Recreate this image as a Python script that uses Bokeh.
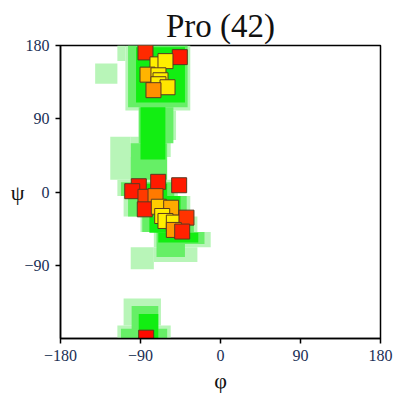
from bokeh.plotting import figure
from bokeh.models import FixedTicker, ColumnDataSource
from bokeh.embed import file_html
from bokeh.resources import INLINE

# ---- data ----
title_text = "Pro (42)"
x_ticks = [-180, -90, 0, 90, 180]
y_ticks = [-90, 0, 90, 180]

# density regions (phi_left, phi_right, psi_bottom, psi_top) per shading level
pale_l = [-116, -107, -141, -92, -124, -124, -101, -116, -109, -90, -75, -101, -75, -109, -116]
pale_r = [-107, -34, -116, -50, -101, -79, -56, -48, -34, -26, -11, -75, -26, -67, -56]
pale_b = [161, 100, 133, 64, 43, 15, 43, -5, -30, -49, -68, -95, -86, -164, -180]
pale_t = [180, 180, 158, 100, 68, 43, 68, 15, -5, -30, -49, -68, -68, -131, -164]

mid_l = [-104, -92, -101, -112, -104, -88, -72, -72, -100, -112]
mid_r = [-37, -53, -60, -52, -38, -30, -18, -40, -70, -60]
mid_b = [104, 60, 15, -5, -30, -49, -64, -80, -180, -180]
mid_t = [180, 104, 60, 12, -5, -30, -49, -64, -140, -168]

hi_l = [-95, -90, -100, -90, -80, -70, -92]
hi_r = [-40, -62, -60, -45, -35, -25, -70]
hi_b = [110, 40, -5, -30, -50, -62, -180]
hi_t = [178, 104, 10, -5, -30, -50, -150]

# residues
phi = [-84.4, -45.8, -70.9, -61.9, -82.1, -69.8, -67.5, -69.8, -59.6, -75.4,
       -91.9, -99.3, -70.1, -46.5, -84.4, -73.1, -85.2, -69.4, -55.5, -65.6,
       -61.9, -52.5, -38.3, -52.5, -43.1, -83.6]
psi = [171.5, 165.7, 156.8, 160.8, 144.2, 143.4, 137.3, 132.4, 128.7, 125.1,
       7.1, 1.0, 12.5, 8.3, -5.9, -5.1, -21.3, -18.1, -19.3, -29.5,
       -35.6, -37.6, -31.5, -46.6, -48.6, -179.0]
col = ["#ff2a00", "#ff1a00", "#ffee00", "#ffee00", "#ffb400", "#ffee00", "#ffee00", "#ffee00", "#ffe600", "#ff9000",
       "#ff1a00", "#ff1a00", "#ff1a00", "#ff1a00", "#ff3a00", "#ff7a00", "#ff1a00", "#ffcc00", "#ffaa00", "#ffee00",
       "#ffee00", "#ffee00", "#ff3300", "#ff9900", "#ff2200", "#ff0a00"]

p = figure(width=396, height=395, x_range=(-180, 180), y_range=(-180, 180),
           output_backend="svg", toolbar_location=None,
           min_border_left=60, min_border_right=16, min_border_top=45, min_border_bottom=55)
p.title.text = title_text
p.title.align = "center"
p.title.text_font = "Liberation Serif"
p.title.text_font_size = "33px"
p.title.text_font_style = "normal"
p.title.text_color = "#111111"
p.title.standoff = 4
p.xgrid.visible = False
p.ygrid.visible = False
p.outline_line_color = "black"
p.outline_line_width = 1.5

for L, R, B, T, c in [(pale_l, pale_r, pale_b, pale_t, "#b8f5b8"),
                      (mid_l, mid_r, mid_b, mid_t, "#66ef66"),
                      (hi_l, hi_r, hi_b, hi_t, "#12ee12")]:
    p.quad(left=L, right=R, bottom=B, top=T, fill_color=c, line_color=None)

src = ColumnDataSource(dict(phi=phi, psi=psi, col=col))
p.scatter("phi", "psi", source=src, marker="square", size=15, fill_color="col",
          line_color="#5a3a20", line_width=1)

p.xaxis[0].ticker = FixedTicker(ticks=x_ticks)
p.yaxis[0].ticker = FixedTicker(ticks=y_ticks)
for ax in (p.xaxis[0], p.yaxis[0]):
    ax.major_label_text_font = "Liberation Serif"
    ax.major_label_text_font_size = "16px"
    ax.major_label_text_color = "#1a2f55"
    ax.minor_tick_line_color = None
    ax.major_tick_in = 0
    ax.major_tick_out = 5
    ax.axis_line_width = 1.5
    ax.major_tick_line_width = 1.5
    ax.major_label_standoff = 6
    ax.axis_label_text_font = "Liberation Serif"
    ax.axis_label_text_font_size = "22px"
    ax.axis_label_text_font_style = "normal"
    ax.axis_label_text_color = "#111111"

p.xaxis[0].axis_label = "φ"
p.xaxis[0].axis_label_standoff = 4
p.yaxis[0].axis_label = "ψ"
p.yaxis[0].axis_label_orientation = "horizontal"
p.yaxis[0].axis_label_standoff = -3

open("out.html", "w").write(file_html(p, INLINE))
